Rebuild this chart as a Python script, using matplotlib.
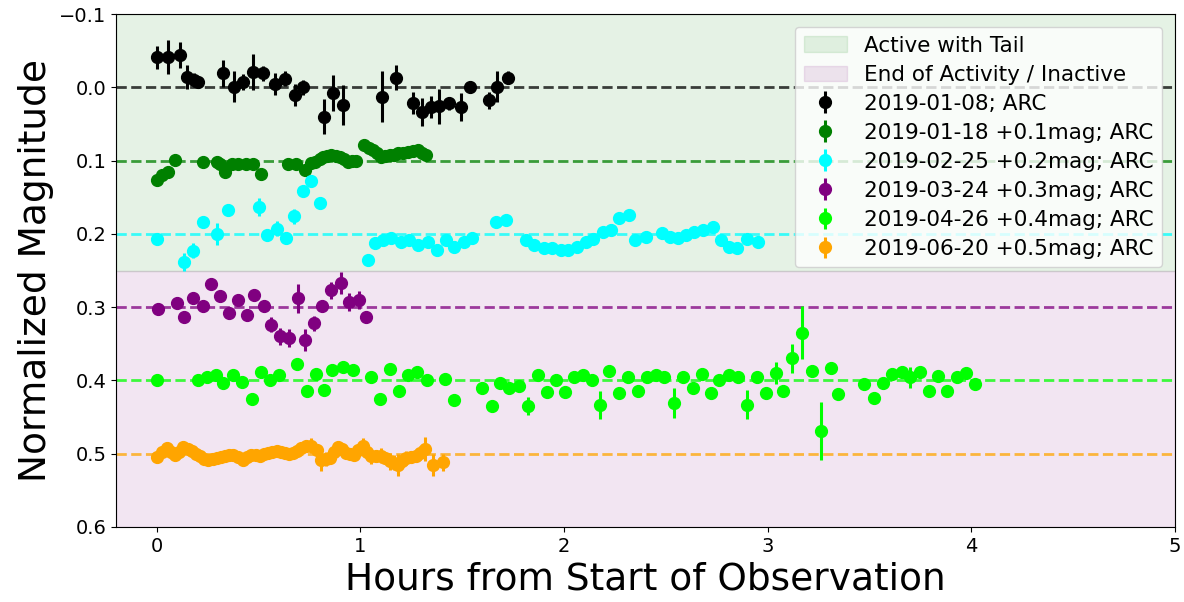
import matplotlib
matplotlib.use("Agg")
import matplotlib.pyplot as plt

# ---------------- data (normalized magnitude, offsets added when plotting) -------------
x_b = [0.0, 0.057, 0.114, 0.150, 0.183, 0.204, 0.327, 0.379, 0.424, 0.473, 0.522, 0.580,
       0.629, 0.677, 0.718, 0.819, 0.865, 0.914, 1.107, 1.175, 1.257, 1.303, 1.347, 1.384,
       1.433, 1.494, 1.538, 1.629, 1.673, 1.727]
y_b = [-0.041, -0.041, -0.044, -0.014, -0.010, -0.007, -0.019, -0.001, -0.007, -0.021, -0.019, -0.005,
       -0.012, 0.011, 0.000, 0.040, 0.008, 0.024, 0.013, -0.013, 0.021, 0.034, 0.027, 0.026,
       0.022, 0.027, 0.000, 0.018, -0.001, -0.013]
e_b = [0.016, 0.023, 0.018, 0.016, 0.010, 0.008, 0.018, 0.021, 0.011, 0.025, 0.010, 0.015,
       0.010, 0.015, 0.010, 0.024, 0.025, 0.027, 0.035, 0.017, 0.015, 0.019, 0.015, 0.024,
       0.009, 0.019, 0.008, 0.012, 0.021, 0.009]

x_g = [0.0, 0.025, 0.057, 0.090, 0.229, 0.294, 0.310, 0.335, 0.367, 0.400, 0.440, 0.473,
       0.514, 0.645, 0.686, 0.726, 0.755, 0.775, 0.800, 0.816, 0.837, 0.857, 0.878, 0.898,
       0.918, 0.939, 0.959, 0.979, 1.020, 1.040, 1.061, 1.082, 1.102, 1.122, 1.143, 1.163,
       1.184, 1.208, 1.233, 1.257, 1.281, 1.300, 1.322]
y_g = [0.027, 0.019, 0.0155, -0.0004, 0.002, 0.002, 0.005, 0.0155, 0.004, 0.004, 0.004, 0.004,
       0.018, 0.004, 0.004, 0.013, 0.003, 0.002, -0.002, -0.005, -0.006, -0.007, -0.006, -0.005,
       -0.002, 0.002, 0.001, 0.000, -0.021, -0.017, -0.014, -0.010, -0.005, -0.006, -0.007, -0.008,
       -0.010, -0.011, -0.012, -0.013, -0.014, -0.011, -0.007]
e_g = [0.003, 0.003, 0.003, 0.003, 0.003, 0.003, 0.003, 0.003, 0.003, 0.003, 0.003, 0.003,
       0.003, 0.003, 0.003, 0.003, 0.003, 0.003, 0.003, 0.003, 0.003, 0.003, 0.003, 0.003,
       0.003, 0.003, 0.003, 0.003, 0.003, 0.003, 0.003, 0.003, 0.003, 0.003, 0.003, 0.003,
       0.003, 0.003, 0.003, 0.003, 0.003, 0.003, 0.003]

x_c = [0.0, 0.134, 0.180, 0.225, 0.297, 0.348, 0.503, 0.542, 0.588, 0.637, 0.672, 0.718,
       0.756, 0.803, 1.037, 1.074, 1.110, 1.151, 1.200, 1.241, 1.281, 1.330, 1.375, 1.420,
       1.461, 1.510, 1.548, 1.665, 1.714, 1.812, 1.851, 1.900, 1.940, 1.983, 2.020, 2.065,
       2.106, 2.140, 2.190, 2.230, 2.270, 2.320, 2.350, 2.400, 2.480, 2.520, 2.560, 2.600,
       2.640, 2.680, 2.730, 2.770, 2.810, 2.850, 2.900, 2.950]
y_c = [0.007, 0.038, 0.023, -0.016, 0.000, -0.032, -0.037, 0.002, -0.007, 0.005, -0.024, -0.059,
       -0.072, -0.042, 0.035, 0.013, 0.009, 0.006, 0.011, 0.009, 0.015, 0.011, 0.022, 0.009,
       0.018, 0.011, 0.005, -0.016, -0.019, 0.009, 0.015, 0.019, 0.019, 0.022, 0.022, 0.018,
       0.011, 0.007, -0.002, -0.005, -0.021, -0.026, 0.009, 0.004, -0.001, 0.004, 0.006, 0.002,
       -0.002, -0.005, -0.009, 0.009, 0.018, 0.019, 0.007, 0.011]
e_c = [0.006, 0.012, 0.010, 0.008, 0.015, 0.006, 0.012, 0.006, 0.010, 0.006, 0.010, 0.006,
       0.006, 0.006, 0.006, 0.004, 0.004, 0.004, 0.004, 0.004, 0.004, 0.004, 0.004, 0.004,
       0.004, 0.004, 0.004, 0.004, 0.004, 0.004, 0.004, 0.004, 0.004, 0.004, 0.004, 0.004,
       0.004, 0.004, 0.004, 0.004, 0.004, 0.004, 0.004, 0.004, 0.004, 0.004, 0.004, 0.004,
       0.004, 0.004, 0.004, 0.004, 0.004, 0.004, 0.004, 0.004]

x_p = [0.005, 0.098, 0.136, 0.180, 0.225, 0.264, 0.310, 0.356, 0.397, 0.441, 0.478, 0.527,
       0.563, 0.607, 0.648, 0.694, 0.726, 0.772, 0.811, 0.857, 0.903, 0.942, 0.991, 1.028]
y_p = [0.003, -0.005, 0.014, -0.013, -0.002, -0.031, -0.015, 0.008, -0.010, 0.011, -0.016, -0.002,
       0.024, 0.040, 0.042, -0.012, 0.045, 0.022, -0.001, -0.023, -0.033, -0.007, -0.010, 0.014]
e_p = [0.005, 0.005, 0.005, 0.006, 0.006, 0.006, 0.006, 0.005, 0.006, 0.005, 0.006, 0.006,
       0.010, 0.012, 0.012, 0.020, 0.015, 0.010, 0.006, 0.012, 0.015, 0.012, 0.012, 0.006]

x_l = [0.003, 0.204, 0.245, 0.290, 0.327, 0.376, 0.421, 0.469, 0.514, 0.555, 0.601, 0.690,
       0.738, 0.784, 0.821, 0.862, 0.914, 0.963, 1.053, 1.098, 1.146, 1.191, 1.233, 1.278,
       1.326, 1.417, 1.461, 1.597, 1.645, 1.685, 1.730, 1.779, 1.825, 1.874, 1.918, 1.959,
       2.004, 2.048, 2.092, 2.138, 2.176, 2.223, 2.269, 2.315, 2.362, 2.408, 2.453, 2.493,
       2.538, 2.584, 2.631, 2.677, 2.723, 2.759, 2.808, 2.853, 2.898, 2.947, 2.992, 3.040,
       3.074, 3.121, 3.167, 3.216, 3.260, 3.309, 3.347, 3.472, 3.521, 3.567, 3.612, 3.657,
       3.697, 3.746, 3.790, 3.836, 3.881, 3.929, 3.975, 4.016]
y_l = [-0.001, -0.001, -0.004, -0.008, 0.003, -0.008, 0.002, 0.026, -0.011, 0.000, -0.008, -0.022,
       0.014, -0.009, 0.013, -0.014, -0.018, -0.014, -0.004, 0.026, -0.015, 0.014, -0.007, -0.012,
       -0.001, -0.002, 0.027, 0.010, 0.035, 0.003, 0.010, 0.008, 0.035, -0.007, 0.016, -0.001,
       0.016, -0.004, -0.008, -0.001, 0.033, -0.013, 0.017, -0.004, 0.014, -0.004, -0.007, -0.004,
       0.031, -0.004, 0.010, -0.009, 0.017, -0.001, -0.007, -0.004, 0.033, -0.004, 0.017, -0.010,
       0.014, -0.030, -0.065, -0.013, 0.069, -0.017, 0.018, 0.005, 0.024, 0.004, -0.009, -0.012,
       -0.004, -0.012, 0.014, -0.006, 0.014, -0.004, -0.010, 0.005]
e_l = [0.004, 0.004, 0.004, 0.004, 0.004, 0.004, 0.004, 0.004, 0.004, 0.004, 0.004, 0.004,
       0.004, 0.004, 0.004, 0.004, 0.004, 0.004, 0.004, 0.004, 0.004, 0.004, 0.004, 0.004,
       0.004, 0.004, 0.004, 0.004, 0.005, 0.004, 0.004, 0.004, 0.012, 0.004, 0.004, 0.004,
       0.004, 0.004, 0.004, 0.004, 0.019, 0.004, 0.004, 0.004, 0.004, 0.004, 0.004, 0.004,
       0.020, 0.004, 0.004, 0.004, 0.004, 0.004, 0.004, 0.004, 0.020, 0.004, 0.004, 0.015,
       0.004, 0.020, 0.036, 0.004, 0.040, 0.004, 0.004, 0.004, 0.004, 0.004, 0.004, 0.004,
       0.015, 0.004, 0.004, 0.004, 0.004, 0.004, 0.004, 0.004]

x_o = [0.0, 0.025, 0.049, 0.070, 0.090, 0.110, 0.131, 0.151, 0.171, 0.192, 0.212, 0.233,
       0.253, 0.274, 0.294, 0.315, 0.335, 0.355, 0.375, 0.400, 0.424, 0.445, 0.465, 0.486,
       0.506, 0.527, 0.547, 0.568, 0.588, 0.608, 0.628, 0.649, 0.669, 0.690, 0.710, 0.735,
       0.759, 0.785, 0.808, 0.830, 0.849, 0.870, 0.890, 0.910, 0.930, 0.950, 0.968, 0.990,
       1.012, 1.033, 1.053, 1.076, 1.099, 1.120, 1.143, 1.164, 1.184, 1.205, 1.225, 1.250,
       1.274, 1.295, 1.315, 1.355, 1.404]
y_o = [0.0045, -0.003, -0.0077, -0.003, 0.0014, -0.003, -0.0086, -0.007, -0.0032, 0.000, 0.0036, 0.007,
       0.0091, 0.007, 0.0059, 0.004, 0.0036, 0.002, 0.0014, 0.005, 0.0091, 0.004, 0.0014, 0.002,
       0.0036, 0.001, -0.0009, -0.002, -0.0032, -0.002, -0.0009, 0.000, -0.0009, -0.004, -0.0077, -0.010,
       -0.0109, -0.005, 0.0082, 0.007, 0.0059, -0.003, -0.0086, -0.006, -0.0005, 0.000, 0.0014, -0.005,
       -0.0109, -0.003, 0.0036, 0.003, 0.0027, 0.006, 0.0105, 0.012, 0.015, 0.010, 0.0059, 0.005,
       0.0036, -0.001, -0.0064, 0.015, 0.0118]
e_o = [0.007, 0.007, 0.008, 0.007, 0.007, 0.007, 0.008, 0.007, 0.007, 0.007, 0.007, 0.007,
       0.007, 0.007, 0.007, 0.007, 0.007, 0.007, 0.007, 0.007, 0.007, 0.007, 0.007, 0.007,
       0.007, 0.007, 0.007, 0.007, 0.007, 0.007, 0.007, 0.007, 0.007, 0.007, 0.008, 0.008,
       0.010, 0.008, 0.016, 0.010, 0.008, 0.008, 0.008, 0.008, 0.008, 0.008, 0.008, 0.008,
       0.010, 0.008, 0.010, 0.008, 0.010, 0.008, 0.012, 0.010, 0.015, 0.010, 0.010, 0.008,
       0.008, 0.010, 0.017, 0.015, 0.012]

series = [
    (x_b, y_b, e_b, 0.0, "black", "2019-01-08; ARC"),
    (x_g, y_g, e_g, 0.1, "green", "2019-01-18 +0.1mag; ARC"),
    (x_c, y_c, e_c, 0.2, "cyan", "2019-02-25 +0.2mag; ARC"),
    (x_p, y_p, e_p, 0.3, "purple", "2019-03-24 +0.3mag; ARC"),
    (x_l, y_l, e_l, 0.4, "lime", "2019-04-26 +0.4mag; ARC"),
    (x_o, y_o, e_o, 0.5, "orange", "2019-06-20 +0.5mag; ARC"),
]

# ---------------- figure ----------------
fig = plt.figure(figsize=(11.84, 6.02), dpi=100)
ax = fig.add_axes([0.098, 0.1246, 0.8944, 0.8521])

ax.axhspan(-0.1, 0.25, color="green", alpha=0.1, label="Active with Tail", zorder=0)
ax.axhspan(0.25, 0.6, color="purple", alpha=0.1, label="End of Activity / Inactive", zorder=0)

for xs, ys, es, off, col, lab in series:
    ax.axhline(off, color=col, ls="--", lw=2, alpha=0.75, zorder=1)
    ax.errorbar(xs, [v + off for v in ys], yerr=es, fmt="o", color=col, ms=8.5,
                elinewidth=2.2, capsize=0, label=lab, zorder=2)

ax.set_xlim(-0.2, 5)
ax.set_ylim(0.6, -0.1)
ax.set_xticks([0, 1, 2, 3, 4, 5])
ax.set_yticks([-0.1, 0.0, 0.1, 0.2, 0.3, 0.4, 0.5, 0.6])
ax.tick_params(labelsize=14)
ax.set_xlabel("Hours from Start of Observation", fontsize=27)
ax.set_ylabel("Normalized Magnitude", fontsize=27)

ax.legend(loc="upper right", fontsize=15.5, borderaxespad=0.6, labelspacing=0.42)

fig.savefig("out.png", dpi=100)
